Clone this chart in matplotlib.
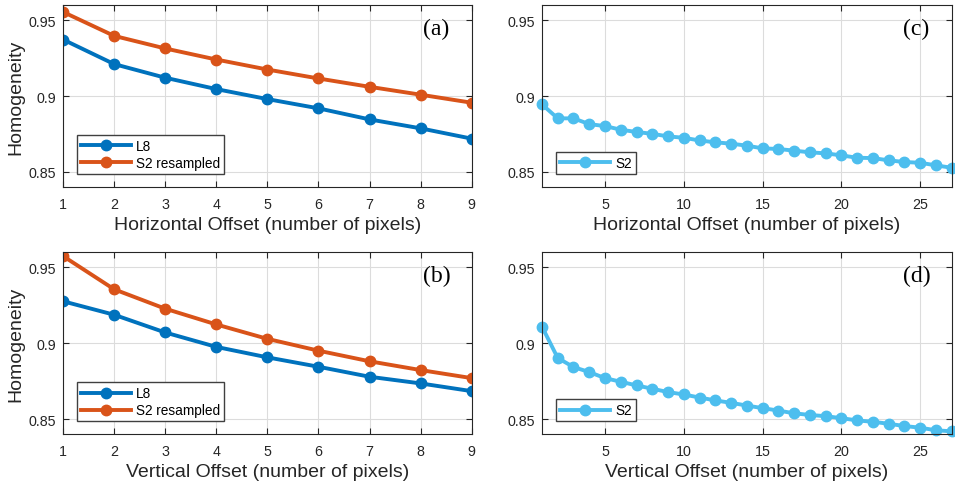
import matplotlib.pyplot as plt

# offsets (pixels)
offset_l8 = [1, 2, 3, 4, 5, 6, 7, 8, 9]
offset_s2 = list(range(1, 28))

# (a) horizontal offset, L8 vs S2 resampled
horiz_l8 = [0.9373, 0.9211, 0.9121, 0.9046, 0.8980, 0.8919, 0.8846, 0.8787, 0.8719]
horiz_s2r = [0.9555, 0.9397, 0.9314, 0.9241, 0.9175, 0.9116, 0.9061, 0.9009, 0.8956]

# (b) vertical offset, L8 vs S2 resampled
vert_l8 = [0.9277, 0.9188, 0.9071, 0.8976, 0.8907, 0.8845, 0.8779, 0.8735, 0.8684]
vert_s2r = [0.9575, 0.9356, 0.9228, 0.9124, 0.9029, 0.8951, 0.8881, 0.8823, 0.8770]

# (c) horizontal offset, S2 native
horiz_s2 = [0.8945, 0.8853, 0.8853, 0.8815, 0.8802, 0.8778, 0.8763, 0.8751, 0.8734,
            0.8725, 0.8707, 0.8695, 0.8686, 0.8673, 0.8655, 0.8651, 0.8640, 0.8629,
            0.8622, 0.8609, 0.8593, 0.8591, 0.8576, 0.8565, 0.8560, 0.8543, 0.8527]

# (d) vertical offset, S2 native
vert_s2 = [0.9110, 0.8903, 0.8843, 0.8810, 0.8770, 0.8746, 0.8722, 0.8700, 0.8678,
           0.8662, 0.8642, 0.8623, 0.8607, 0.8589, 0.8572, 0.8556, 0.8538, 0.8527,
           0.8519, 0.8506, 0.8491, 0.8482, 0.8469, 0.8454, 0.8443, 0.8426, 0.8419]

blue = '#0072BD'
orange = '#D95319'
cyan = '#4DBEEE'

plt.rcParams['font.family'] = ['Liberation Sans', 'DejaVu Sans']

fig = plt.figure(figsize=(9.55, 4.89), dpi=100)

ax_a = fig.add_axes([0.066, 0.6155, 0.428, 0.372])
ax_c = fig.add_axes([0.5675, 0.6155, 0.429, 0.372])
ax_b = fig.add_axes([0.066, 0.110, 0.428, 0.372])
ax_d = fig.add_axes([0.5675, 0.110, 0.429, 0.372])

line_kw = dict(linewidth=2.8, marker='o', markersize=7.5)


def style(ax, xlabel, tag, ylabel=True):
    ax.set_ylim(0.84, 0.96)
    ax.set_yticks([0.85, 0.9, 0.95])
    ax.set_yticklabels(['0.85', '0.9', '0.95'])
    ax.grid(True, color='#dcdcdc', linewidth=0.8)
    ax.set_axisbelow(True)
    ax.tick_params(direction='in', top=True, right=True, labelsize=10.3,
                   colors='#262626', length=4, width=0.8)
    ax.tick_params(axis='x', pad=7)
    ax.tick_params(axis='y', pad=5)
    for s in ax.spines.values():
        s.set_color('#262626')
        s.set_linewidth(0.8)
    ax.set_xlabel(xlabel, fontsize=14, color='#262626', labelpad=4)
    if ylabel:
        ax.set_ylabel('Homogeneity', fontsize=14, color='#262626', labelpad=3)
    ax.text(0.914, 0.87, tag, transform=ax.transAxes, ha='center', va='center',
            fontsize=17, family='Liberation Serif')
    leg = ax.legend(loc='lower left', bbox_to_anchor=(0.034, 0.07), borderaxespad=0,
                    fontsize=9.8, handlelength=3.7, handletextpad=0.35,
                    fancybox=False, framealpha=1, edgecolor='#404040',
                    borderpad=0.3, labelspacing=0.22)
    leg.get_frame().set_linewidth(1.0)


ax_a.plot(offset_l8, horiz_l8, color=blue, label='L8', **line_kw)
ax_a.plot(offset_l8, horiz_s2r, color=orange, label='S2 resampled', **line_kw)
ax_a.set_xlim(1, 9)
ax_a.set_xticks(offset_l8)
style(ax_a, 'Horizontal Offset (number of pixels)', '(a)')

ax_b.plot(offset_l8, vert_l8, color=blue, label='L8', **line_kw)
ax_b.plot(offset_l8, vert_s2r, color=orange, label='S2 resampled', **line_kw)
ax_b.set_xlim(1, 9)
ax_b.set_xticks(offset_l8)
style(ax_b, 'Vertical Offset (number of pixels)', '(b)')

ax_c.plot(offset_s2, horiz_s2, color=cyan, label='S2', clip_on=False, **line_kw)
ax_c.set_xlim(1, 27)
ax_c.set_xticks([5, 10, 15, 20, 25])
style(ax_c, 'Horizontal Offset (number of pixels)', '(c)', ylabel=False)

ax_d.plot(offset_s2, vert_s2, color=cyan, label='S2', clip_on=False, **line_kw)
ax_d.set_xlim(1, 27)
ax_d.set_xticks([5, 10, 15, 20, 25])
style(ax_d, 'Vertical Offset (number of pixels)', '(d)', ylabel=False)

fig.savefig('out.png', dpi=100)
